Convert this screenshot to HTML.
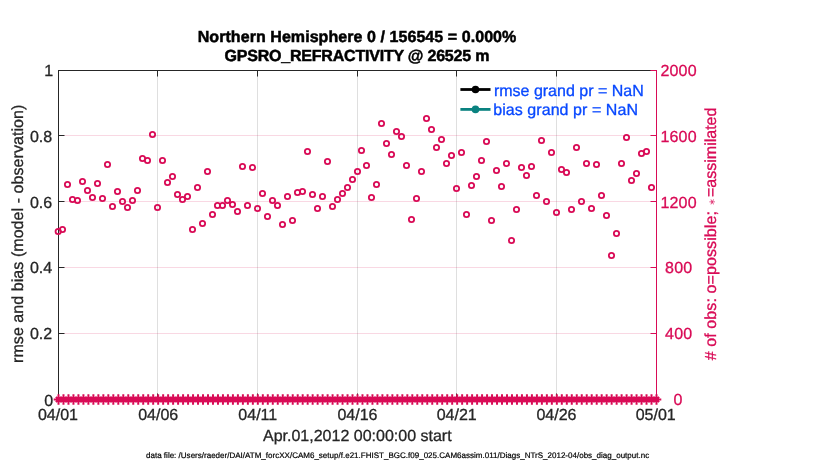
<!DOCTYPE html>
<html><head><meta charset="utf-8"><title>GPSRO_REFRACTIVITY</title>
<style>
html,body{margin:0;padding:0;background:#fff;}
body{width:830px;height:470px;overflow:hidden;}
svg{display:block;}
text{font-family:"Liberation Sans",Arial,Helvetica,sans-serif;font-size:16px;fill:#262626;text-rendering:geometricPrecision;stroke:#262626;stroke-width:0.3px;}
.b{font-weight:bold;fill:#000;stroke:#000;stroke-width:0.5px;}
.c{fill:#D90B56;stroke:#D90B56;}
.bl{fill:#0848FF;stroke:#0848FF;}
</style></head><body>
<svg width="830" height="470" viewBox="0 0 830 470">
<rect x="0" y="0" width="830" height="470" fill="#fff"/>

<g shape-rendering="crispEdges">
<rect x="157" y="71" width="1" height="328" fill="#262626" fill-opacity="0.15"/>
<rect x="257" y="71" width="1" height="328" fill="#262626" fill-opacity="0.15"/>
<rect x="357" y="71" width="1" height="328" fill="#262626" fill-opacity="0.15"/>
<rect x="456" y="71" width="1" height="328" fill="#262626" fill-opacity="0.15"/>
<rect x="556" y="71" width="1" height="328" fill="#262626" fill-opacity="0.15"/>
<rect x="59" y="135" width="597" height="1" fill="#D70A53" fill-opacity="0.16"/>
<rect x="59" y="201" width="597" height="1" fill="#D70A53" fill-opacity="0.16"/>
<rect x="59" y="267" width="597" height="1" fill="#D70A53" fill-opacity="0.16"/>
<rect x="59" y="333" width="597" height="1" fill="#D70A53" fill-opacity="0.16"/>
<g fill="#262626">
<rect x="58" y="70" width="1" height="330"/>
<rect x="58" y="70" width="599" height="1"/>
<rect x="58" y="399" width="599" height="1"/>
<rect x="157" y="71" width="1" height="5.5" shape-rendering="auto"/>
<rect x="157" y="393.5" width="1" height="5.5" shape-rendering="auto"/>
<rect x="257" y="71" width="1" height="5.5" shape-rendering="auto"/>
<rect x="257" y="393.5" width="1" height="5.5" shape-rendering="auto"/>
<rect x="357" y="71" width="1" height="5.5" shape-rendering="auto"/>
<rect x="357" y="393.5" width="1" height="5.5" shape-rendering="auto"/>
<rect x="456" y="71" width="1" height="5.5" shape-rendering="auto"/>
<rect x="456" y="393.5" width="1" height="5.5" shape-rendering="auto"/>
<rect x="556" y="71" width="1" height="5.5" shape-rendering="auto"/>
<rect x="556" y="393.5" width="1" height="5.5" shape-rendering="auto"/>
<rect x="59" y="135" width="5.5" height="1" shape-rendering="auto"/>
<rect x="59" y="201" width="5.5" height="1" shape-rendering="auto"/>
<rect x="59" y="267" width="5.5" height="1" shape-rendering="auto"/>
<rect x="59" y="333" width="5.5" height="1" shape-rendering="auto"/>
</g>
<g fill="#D90B56">
<rect x="656" y="70" width="1" height="330"/>
<rect x="650.5" y="70" width="5.5" height="1" shape-rendering="auto"/>
<rect x="650.5" y="135" width="5.5" height="1" shape-rendering="auto"/>
<rect x="650.5" y="201" width="5.5" height="1" shape-rendering="auto"/>
<rect x="650.5" y="267" width="5.5" height="1" shape-rendering="auto"/>
<rect x="650.5" y="333" width="5.5" height="1" shape-rendering="auto"/>
<rect x="650.5" y="399" width="5.5" height="1" shape-rendering="auto"/>
</g></g>
<g fill="none" stroke="#D90B56" stroke-width="1.8">
<circle cx="58.2" cy="231.5" r="2.65"/>
<circle cx="62.5" cy="229.5" r="2.65"/>
<circle cx="67.5" cy="184.5" r="2.65"/>
<circle cx="72.5" cy="199.5" r="2.65"/>
<circle cx="77.5" cy="200.5" r="2.65"/>
<circle cx="82.5" cy="181.5" r="2.65"/>
<circle cx="87.5" cy="190.5" r="2.65"/>
<circle cx="92.5" cy="197.5" r="2.65"/>
<circle cx="97.5" cy="183.5" r="2.65"/>
<circle cx="102.5" cy="198.5" r="2.65"/>
<circle cx="107.5" cy="164.5" r="2.65"/>
<circle cx="112.5" cy="206.5" r="2.65"/>
<circle cx="117.5" cy="191.5" r="2.65"/>
<circle cx="122.5" cy="201.5" r="2.65"/>
<circle cx="127.5" cy="207.5" r="2.65"/>
<circle cx="132.5" cy="200.5" r="2.65"/>
<circle cx="137.5" cy="190.5" r="2.65"/>
<circle cx="142.5" cy="158.5" r="2.65"/>
<circle cx="147.5" cy="160.5" r="2.65"/>
<circle cx="152.5" cy="134.5" r="2.65"/>
<circle cx="157.5" cy="207.5" r="2.65"/>
<circle cx="162.5" cy="160.5" r="2.65"/>
<circle cx="167.5" cy="182.5" r="2.65"/>
<circle cx="172.5" cy="176.5" r="2.65"/>
<circle cx="177.5" cy="194.5" r="2.65"/>
<circle cx="182.5" cy="199.5" r="2.65"/>
<circle cx="187.5" cy="196.5" r="2.65"/>
<circle cx="192.5" cy="229.5" r="2.65"/>
<circle cx="197.5" cy="187.5" r="2.65"/>
<circle cx="202.5" cy="223.5" r="2.65"/>
<circle cx="207.5" cy="171.5" r="2.65"/>
<circle cx="212.5" cy="214.5" r="2.65"/>
<circle cx="217.5" cy="205.5" r="2.65"/>
<circle cx="222.5" cy="205.5" r="2.65"/>
<circle cx="227.5" cy="200.5" r="2.65"/>
<circle cx="232.5" cy="204.5" r="2.65"/>
<circle cx="237.5" cy="211.5" r="2.65"/>
<circle cx="242.5" cy="166.5" r="2.65"/>
<circle cx="247.5" cy="205.5" r="2.65"/>
<circle cx="252.5" cy="167.5" r="2.65"/>
<circle cx="257.5" cy="208.5" r="2.65"/>
<circle cx="262.5" cy="193.5" r="2.65"/>
<circle cx="267.5" cy="216.5" r="2.65"/>
<circle cx="272.5" cy="200.5" r="2.65"/>
<circle cx="277.5" cy="205.5" r="2.65"/>
<circle cx="282.5" cy="224.5" r="2.65"/>
<circle cx="287.5" cy="196.5" r="2.65"/>
<circle cx="292.5" cy="220.5" r="2.65"/>
<circle cx="297.5" cy="192.5" r="2.65"/>
<circle cx="302.5" cy="191.5" r="2.65"/>
<circle cx="307.5" cy="151.5" r="2.65"/>
<circle cx="312.5" cy="194.5" r="2.65"/>
<circle cx="317.5" cy="208.5" r="2.65"/>
<circle cx="322.5" cy="196.5" r="2.65"/>
<circle cx="327.5" cy="161.5" r="2.65"/>
<circle cx="332.5" cy="206.5" r="2.65"/>
<circle cx="337.5" cy="199.5" r="2.65"/>
<circle cx="342.5" cy="193.5" r="2.65"/>
<circle cx="347.5" cy="187.5" r="2.65"/>
<circle cx="352.5" cy="179.5" r="2.65"/>
<circle cx="357.5" cy="171.5" r="2.65"/>
<circle cx="361.5" cy="150.5" r="2.65"/>
<circle cx="366.5" cy="165.5" r="2.65"/>
<circle cx="371.5" cy="197.5" r="2.65"/>
<circle cx="376.5" cy="184.5" r="2.65"/>
<circle cx="381.5" cy="123.5" r="2.65"/>
<circle cx="386.5" cy="143.5" r="2.65"/>
<circle cx="391.5" cy="154.5" r="2.65"/>
<circle cx="396.5" cy="131.5" r="2.65"/>
<circle cx="401.5" cy="136.5" r="2.65"/>
<circle cx="406.5" cy="165.5" r="2.65"/>
<circle cx="411.5" cy="219.5" r="2.65"/>
<circle cx="416.5" cy="198.5" r="2.65"/>
<circle cx="421.5" cy="171.5" r="2.65"/>
<circle cx="426.5" cy="118.5" r="2.65"/>
<circle cx="431.5" cy="129.5" r="2.65"/>
<circle cx="436.5" cy="147.5" r="2.65"/>
<circle cx="441.5" cy="139.5" r="2.65"/>
<circle cx="446.5" cy="163.5" r="2.65"/>
<circle cx="451.5" cy="155.5" r="2.65"/>
<circle cx="456.5" cy="188.5" r="2.65"/>
<circle cx="461.5" cy="152.5" r="2.65"/>
<circle cx="466.5" cy="214.5" r="2.65"/>
<circle cx="471.5" cy="185.5" r="2.65"/>
<circle cx="476.5" cy="176.5" r="2.65"/>
<circle cx="481.5" cy="160.5" r="2.65"/>
<circle cx="486.5" cy="141.5" r="2.65"/>
<circle cx="491.5" cy="220.5" r="2.65"/>
<circle cx="496.5" cy="170.5" r="2.65"/>
<circle cx="501.5" cy="186.5" r="2.65"/>
<circle cx="506.5" cy="163.5" r="2.65"/>
<circle cx="511.5" cy="240.5" r="2.65"/>
<circle cx="516.5" cy="209.5" r="2.65"/>
<circle cx="521.5" cy="167.5" r="2.65"/>
<circle cx="526.5" cy="175.5" r="2.65"/>
<circle cx="531.5" cy="166.5" r="2.65"/>
<circle cx="536.5" cy="195.5" r="2.65"/>
<circle cx="541.5" cy="140.5" r="2.65"/>
<circle cx="546.5" cy="201.5" r="2.65"/>
<circle cx="551.5" cy="152.5" r="2.65"/>
<circle cx="556.5" cy="212.5" r="2.65"/>
<circle cx="561.5" cy="169.5" r="2.65"/>
<circle cx="566.5" cy="172.5" r="2.65"/>
<circle cx="571.5" cy="209.5" r="2.65"/>
<circle cx="576.5" cy="147.5" r="2.65"/>
<circle cx="581.5" cy="201.5" r="2.65"/>
<circle cx="586.5" cy="163.5" r="2.65"/>
<circle cx="591.5" cy="208.5" r="2.65"/>
<circle cx="596.5" cy="164.5" r="2.65"/>
<circle cx="601.5" cy="195.5" r="2.65"/>
<circle cx="606.5" cy="215.5" r="2.65"/>
<circle cx="611.5" cy="255.5" r="2.65"/>
<circle cx="616.5" cy="233.5" r="2.65"/>
<circle cx="621.5" cy="163.5" r="2.65"/>
<circle cx="626.5" cy="137.5" r="2.65"/>
<circle cx="631.5" cy="180.5" r="2.65"/>
<circle cx="636.5" cy="173.5" r="2.65"/>
<circle cx="641.5" cy="153.5" r="2.65"/>
<circle cx="646.5" cy="151.5" r="2.65"/>
<circle cx="651.5" cy="187.5" r="2.65"/>
</g>
<g stroke="#D90B56" stroke-width="2" stroke-linecap="butt">
<path d="M58.50 394.2V404.8M53.70 399.5H63.30M55.90 396.9L61.10 402.1M55.90 402.1L61.10 396.9M63.48 394.2V404.8M58.68 399.5H68.28M60.88 396.9L66.08 402.1M60.88 402.1L66.08 396.9M68.47 394.2V404.8M63.67 399.5H73.27M65.87 396.9L71.07 402.1M65.87 402.1L71.07 396.9M73.45 394.2V404.8M68.65 399.5H78.25M70.85 396.9L76.05 402.1M70.85 402.1L76.05 396.9M78.43 394.2V404.8M73.63 399.5H83.23M75.83 396.9L81.03 402.1M75.83 402.1L81.03 396.9M83.42 394.2V404.8M78.62 399.5H88.22M80.82 396.9L86.02 402.1M80.82 402.1L86.02 396.9M88.40 394.2V404.8M83.60 399.5H93.20M85.80 396.9L91.00 402.1M85.80 402.1L91.00 396.9M93.38 394.2V404.8M88.58 399.5H98.18M90.78 396.9L95.98 402.1M90.78 402.1L95.98 396.9M98.37 394.2V404.8M93.57 399.5H103.17M95.77 396.9L100.97 402.1M95.77 402.1L100.97 396.9M103.35 394.2V404.8M98.55 399.5H108.15M100.75 396.9L105.95 402.1M100.75 402.1L105.95 396.9M108.33 394.2V404.8M103.53 399.5H113.13M105.73 396.9L110.93 402.1M105.73 402.1L110.93 396.9M113.32 394.2V404.8M108.52 399.5H118.12M110.72 396.9L115.92 402.1M110.72 402.1L115.92 396.9M118.30 394.2V404.8M113.50 399.5H123.10M115.70 396.9L120.90 402.1M115.70 402.1L120.90 396.9M123.28 394.2V404.8M118.48 399.5H128.08M120.68 396.9L125.88 402.1M120.68 402.1L125.88 396.9M128.27 394.2V404.8M123.47 399.5H133.07M125.67 396.9L130.87 402.1M125.67 402.1L130.87 396.9M133.25 394.2V404.8M128.45 399.5H138.05M130.65 396.9L135.85 402.1M130.65 402.1L135.85 396.9M138.23 394.2V404.8M133.43 399.5H143.03M135.63 396.9L140.83 402.1M135.63 402.1L140.83 396.9M143.22 394.2V404.8M138.42 399.5H148.02M140.62 396.9L145.82 402.1M140.62 402.1L145.82 396.9M148.20 394.2V404.8M143.40 399.5H153.00M145.60 396.9L150.80 402.1M145.60 402.1L150.80 396.9M153.18 394.2V404.8M148.38 399.5H157.98M150.58 396.9L155.78 402.1M150.58 402.1L155.78 396.9M158.17 394.2V404.8M153.37 399.5H162.97M155.57 396.9L160.77 402.1M155.57 402.1L160.77 396.9M163.15 394.2V404.8M158.35 399.5H167.95M160.55 396.9L165.75 402.1M160.55 402.1L165.75 396.9M168.13 394.2V404.8M163.33 399.5H172.93M165.53 396.9L170.73 402.1M165.53 402.1L170.73 396.9M173.12 394.2V404.8M168.32 399.5H177.92M170.52 396.9L175.72 402.1M170.52 402.1L175.72 396.9M178.10 394.2V404.8M173.30 399.5H182.90M175.50 396.9L180.70 402.1M175.50 402.1L180.70 396.9M183.08 394.2V404.8M178.28 399.5H187.88M180.48 396.9L185.68 402.1M180.48 402.1L185.68 396.9M188.07 394.2V404.8M183.27 399.5H192.87M185.47 396.9L190.67 402.1M185.47 402.1L190.67 396.9M193.05 394.2V404.8M188.25 399.5H197.85M190.45 396.9L195.65 402.1M190.45 402.1L195.65 396.9M198.03 394.2V404.8M193.23 399.5H202.83M195.43 396.9L200.63 402.1M195.43 402.1L200.63 396.9M203.02 394.2V404.8M198.22 399.5H207.82M200.42 396.9L205.62 402.1M200.42 402.1L205.62 396.9M208.00 394.2V404.8M203.20 399.5H212.80M205.40 396.9L210.60 402.1M205.40 402.1L210.60 396.9M212.98 394.2V404.8M208.18 399.5H217.78M210.38 396.9L215.58 402.1M210.38 402.1L215.58 396.9M217.97 394.2V404.8M213.17 399.5H222.77M215.37 396.9L220.57 402.1M215.37 402.1L220.57 396.9M222.95 394.2V404.8M218.15 399.5H227.75M220.35 396.9L225.55 402.1M220.35 402.1L225.55 396.9M227.93 394.2V404.8M223.13 399.5H232.73M225.33 396.9L230.53 402.1M225.33 402.1L230.53 396.9M232.92 394.2V404.8M228.12 399.5H237.72M230.32 396.9L235.52 402.1M230.32 402.1L235.52 396.9M237.90 394.2V404.8M233.10 399.5H242.70M235.30 396.9L240.50 402.1M235.30 402.1L240.50 396.9M242.88 394.2V404.8M238.08 399.5H247.68M240.28 396.9L245.48 402.1M240.28 402.1L245.48 396.9M247.87 394.2V404.8M243.07 399.5H252.67M245.27 396.9L250.47 402.1M245.27 402.1L250.47 396.9M252.85 394.2V404.8M248.05 399.5H257.65M250.25 396.9L255.45 402.1M250.25 402.1L255.45 396.9M257.83 394.2V404.8M253.03 399.5H262.63M255.23 396.9L260.43 402.1M255.23 402.1L260.43 396.9M262.82 394.2V404.8M258.02 399.5H267.62M260.22 396.9L265.42 402.1M260.22 402.1L265.42 396.9M267.80 394.2V404.8M263.00 399.5H272.60M265.20 396.9L270.40 402.1M265.20 402.1L270.40 396.9M272.78 394.2V404.8M267.98 399.5H277.58M270.18 396.9L275.38 402.1M270.18 402.1L275.38 396.9M277.77 394.2V404.8M272.97 399.5H282.57M275.17 396.9L280.37 402.1M275.17 402.1L280.37 396.9M282.75 394.2V404.8M277.95 399.5H287.55M280.15 396.9L285.35 402.1M280.15 402.1L285.35 396.9M287.73 394.2V404.8M282.93 399.5H292.53M285.13 396.9L290.33 402.1M285.13 402.1L290.33 396.9M292.72 394.2V404.8M287.92 399.5H297.52M290.12 396.9L295.32 402.1M290.12 402.1L295.32 396.9M297.70 394.2V404.8M292.90 399.5H302.50M295.10 396.9L300.30 402.1M295.10 402.1L300.30 396.9M302.68 394.2V404.8M297.88 399.5H307.48M300.08 396.9L305.28 402.1M300.08 402.1L305.28 396.9M307.66 394.2V404.8M302.86 399.5H312.46M305.06 396.9L310.26 402.1M305.06 402.1L310.26 396.9M312.65 394.2V404.8M307.85 399.5H317.45M310.05 396.9L315.25 402.1M310.05 402.1L315.25 396.9M317.63 394.2V404.8M312.83 399.5H322.43M315.03 396.9L320.23 402.1M315.03 402.1L320.23 396.9M322.61 394.2V404.8M317.81 399.5H327.41M320.01 396.9L325.21 402.1M320.01 402.1L325.21 396.9M327.60 394.2V404.8M322.80 399.5H332.40M325.00 396.9L330.20 402.1M325.00 402.1L330.20 396.9M332.58 394.2V404.8M327.78 399.5H337.38M329.98 396.9L335.18 402.1M329.98 402.1L335.18 396.9M337.56 394.2V404.8M332.76 399.5H342.36M334.96 396.9L340.16 402.1M334.96 402.1L340.16 396.9M342.55 394.2V404.8M337.75 399.5H347.35M339.95 396.9L345.15 402.1M339.95 402.1L345.15 396.9M347.53 394.2V404.8M342.73 399.5H352.33M344.93 396.9L350.13 402.1M344.93 402.1L350.13 396.9M352.51 394.2V404.8M347.71 399.5H357.31M349.91 396.9L355.11 402.1M349.91 402.1L355.11 396.9M357.50 394.2V404.8M352.70 399.5H362.30M354.90 396.9L360.10 402.1M354.90 402.1L360.10 396.9M362.48 394.2V404.8M357.68 399.5H367.28M359.88 396.9L365.08 402.1M359.88 402.1L365.08 396.9M367.46 394.2V404.8M362.66 399.5H372.26M364.86 396.9L370.06 402.1M364.86 402.1L370.06 396.9M372.45 394.2V404.8M367.65 399.5H377.25M369.85 396.9L375.05 402.1M369.85 402.1L375.05 396.9M377.43 394.2V404.8M372.63 399.5H382.23M374.83 396.9L380.03 402.1M374.83 402.1L380.03 396.9M382.41 394.2V404.8M377.61 399.5H387.21M379.81 396.9L385.01 402.1M379.81 402.1L385.01 396.9M387.40 394.2V404.8M382.60 399.5H392.20M384.80 396.9L390.00 402.1M384.80 402.1L390.00 396.9M392.38 394.2V404.8M387.58 399.5H397.18M389.78 396.9L394.98 402.1M389.78 402.1L394.98 396.9M397.36 394.2V404.8M392.56 399.5H402.16M394.76 396.9L399.96 402.1M394.76 402.1L399.96 396.9M402.35 394.2V404.8M397.55 399.5H407.15M399.75 396.9L404.95 402.1M399.75 402.1L404.95 396.9M407.33 394.2V404.8M402.53 399.5H412.13M404.73 396.9L409.93 402.1M404.73 402.1L409.93 396.9M412.31 394.2V404.8M407.51 399.5H417.11M409.71 396.9L414.91 402.1M409.71 402.1L414.91 396.9M417.30 394.2V404.8M412.50 399.5H422.10M414.70 396.9L419.90 402.1M414.70 402.1L419.90 396.9M422.28 394.2V404.8M417.48 399.5H427.08M419.68 396.9L424.88 402.1M419.68 402.1L424.88 396.9M427.26 394.2V404.8M422.46 399.5H432.06M424.66 396.9L429.86 402.1M424.66 402.1L429.86 396.9M432.25 394.2V404.8M427.45 399.5H437.05M429.65 396.9L434.85 402.1M429.65 402.1L434.85 396.9M437.23 394.2V404.8M432.43 399.5H442.03M434.63 396.9L439.83 402.1M434.63 402.1L439.83 396.9M442.21 394.2V404.8M437.41 399.5H447.01M439.61 396.9L444.81 402.1M439.61 402.1L444.81 396.9M447.20 394.2V404.8M442.40 399.5H452.00M444.60 396.9L449.80 402.1M444.60 402.1L449.80 396.9M452.18 394.2V404.8M447.38 399.5H456.98M449.58 396.9L454.78 402.1M449.58 402.1L454.78 396.9M457.16 394.2V404.8M452.36 399.5H461.96M454.56 396.9L459.76 402.1M454.56 402.1L459.76 396.9M462.15 394.2V404.8M457.35 399.5H466.95M459.55 396.9L464.75 402.1M459.55 402.1L464.75 396.9M467.13 394.2V404.8M462.33 399.5H471.93M464.53 396.9L469.73 402.1M464.53 402.1L469.73 396.9M472.11 394.2V404.8M467.31 399.5H476.91M469.51 396.9L474.71 402.1M469.51 402.1L474.71 396.9M477.10 394.2V404.8M472.30 399.5H481.90M474.50 396.9L479.70 402.1M474.50 402.1L479.70 396.9M482.08 394.2V404.8M477.28 399.5H486.88M479.48 396.9L484.68 402.1M479.48 402.1L484.68 396.9M487.06 394.2V404.8M482.26 399.5H491.86M484.46 396.9L489.66 402.1M484.46 402.1L489.66 396.9M492.05 394.2V404.8M487.25 399.5H496.85M489.45 396.9L494.65 402.1M489.45 402.1L494.65 396.9M497.03 394.2V404.8M492.23 399.5H501.83M494.43 396.9L499.63 402.1M494.43 402.1L499.63 396.9M502.01 394.2V404.8M497.21 399.5H506.81M499.41 396.9L504.61 402.1M499.41 402.1L504.61 396.9M507.00 394.2V404.8M502.20 399.5H511.80M504.40 396.9L509.60 402.1M504.40 402.1L509.60 396.9M511.98 394.2V404.8M507.18 399.5H516.78M509.38 396.9L514.58 402.1M509.38 402.1L514.58 396.9M516.96 394.2V404.8M512.16 399.5H521.76M514.36 396.9L519.56 402.1M514.36 402.1L519.56 396.9M521.95 394.2V404.8M517.15 399.5H526.75M519.35 396.9L524.55 402.1M519.35 402.1L524.55 396.9M526.93 394.2V404.8M522.13 399.5H531.73M524.33 396.9L529.53 402.1M524.33 402.1L529.53 396.9M531.91 394.2V404.8M527.11 399.5H536.71M529.31 396.9L534.51 402.1M529.31 402.1L534.51 396.9M536.90 394.2V404.8M532.10 399.5H541.70M534.30 396.9L539.50 402.1M534.30 402.1L539.50 396.9M541.88 394.2V404.8M537.08 399.5H546.68M539.28 396.9L544.48 402.1M539.28 402.1L544.48 396.9M546.86 394.2V404.8M542.06 399.5H551.66M544.26 396.9L549.46 402.1M544.26 402.1L549.46 396.9M551.85 394.2V404.8M547.05 399.5H556.65M549.25 396.9L554.45 402.1M549.25 402.1L554.45 396.9M556.83 394.2V404.8M552.03 399.5H561.63M554.23 396.9L559.43 402.1M554.23 402.1L559.43 396.9M561.81 394.2V404.8M557.01 399.5H566.61M559.21 396.9L564.41 402.1M559.21 402.1L564.41 396.9M566.80 394.2V404.8M562.00 399.5H571.60M564.20 396.9L569.40 402.1M564.20 402.1L569.40 396.9M571.78 394.2V404.8M566.98 399.5H576.58M569.18 396.9L574.38 402.1M569.18 402.1L574.38 396.9M576.76 394.2V404.8M571.96 399.5H581.56M574.16 396.9L579.36 402.1M574.16 402.1L579.36 396.9M581.75 394.2V404.8M576.95 399.5H586.55M579.15 396.9L584.35 402.1M579.15 402.1L584.35 396.9M586.73 394.2V404.8M581.93 399.5H591.53M584.13 396.9L589.33 402.1M584.13 402.1L589.33 396.9M591.71 394.2V404.8M586.91 399.5H596.51M589.11 396.9L594.31 402.1M589.11 402.1L594.31 396.9M596.70 394.2V404.8M591.90 399.5H601.50M594.10 396.9L599.30 402.1M594.10 402.1L599.30 396.9M601.68 394.2V404.8M596.88 399.5H606.48M599.08 396.9L604.28 402.1M599.08 402.1L604.28 396.9M606.66 394.2V404.8M601.86 399.5H611.46M604.06 396.9L609.26 402.1M604.06 402.1L609.26 396.9M611.65 394.2V404.8M606.85 399.5H616.45M609.05 396.9L614.25 402.1M609.05 402.1L614.25 396.9M616.63 394.2V404.8M611.83 399.5H621.43M614.03 396.9L619.23 402.1M614.03 402.1L619.23 396.9M621.61 394.2V404.8M616.81 399.5H626.41M619.01 396.9L624.21 402.1M619.01 402.1L624.21 396.9M626.60 394.2V404.8M621.80 399.5H631.40M624.00 396.9L629.20 402.1M624.00 402.1L629.20 396.9M631.58 394.2V404.8M626.78 399.5H636.38M628.98 396.9L634.18 402.1M628.98 402.1L634.18 396.9M636.56 394.2V404.8M631.76 399.5H641.36M633.96 396.9L639.16 402.1M633.96 402.1L639.16 396.9M641.55 394.2V404.8M636.75 399.5H646.35M638.95 396.9L644.15 402.1M638.95 402.1L644.15 396.9M646.53 394.2V404.8M641.73 399.5H651.33M643.93 396.9L649.13 402.1M643.93 402.1L649.13 396.9M651.51 394.2V404.8M646.71 399.5H656.31M648.91 396.9L654.11 402.1M648.91 402.1L654.11 396.9M656.50 394.2V404.8M651.70 399.5H661.30M653.90 396.9L659.10 402.1M653.90 402.1L659.10 396.9"/>
</g>
<line x1="460.4" y1="89.5" x2="490.5" y2="89.5" stroke="#000" stroke-width="2.8"/><circle cx="475.5" cy="89.5" r="3.8" fill="#000"/>
<line x1="460.4" y1="109.4" x2="490.5" y2="109.4" stroke="#0A8280" stroke-width="2.8"/><circle cx="475.5" cy="109.4" r="3.8" fill="#0A8280"/>
<text class="bl" x="493.9" y="95.6">rmse grand pr = NaN</text>
<text class="bl" x="493.2" y="114.5" textLength="144.8">bias grand pr = NaN</text>
<text class="b" x="357.0" y="41.9" text-anchor="middle" textLength="318.6">Northern Hemisphere 0 / 156545 = 0.000%</text>
<text class="b" x="357.0" y="61.2" text-anchor="middle" textLength="264.8">GPSRO_REFRACTIVITY @ 26525 m</text>
<text x="53.2" y="76.3" text-anchor="end">1</text>
<text x="52.2" y="142.3" text-anchor="end">0.8</text>
<text x="52.2" y="208.4" text-anchor="end">0.6</text>
<text x="52.2" y="273.3" text-anchor="end">0.4</text>
<text x="52.2" y="339.3" text-anchor="end">0.2</text>
<text x="53.2" y="405.7" text-anchor="end">0</text>
<text class="c" x="660.4" y="75.9" style="white-space:pre;letter-spacing:0.2px">2000</text>
<text class="c" x="660.4" y="142.1" style="white-space:pre;letter-spacing:0.2px">1600</text>
<text class="c" x="660.4" y="208.1" style="white-space:pre;letter-spacing:0.2px">1200</text>
<text class="c" x="660.4" y="273.3" style="white-space:pre;letter-spacing:0.2px"> 800</text>
<text class="c" x="660.4" y="339.3" style="white-space:pre;letter-spacing:0.2px"> 400</text>
<text class="c" x="659.6" y="405.3" style="white-space:pre;letter-spacing:0.2px">   0</text>
<text x="58.0" y="419.8" text-anchor="middle">04/01</text>
<text x="158.2" y="419.8" text-anchor="middle">04/06</text>
<text x="257.8" y="419.8" text-anchor="middle">04/11</text>
<text x="357.5" y="419.8" text-anchor="middle">04/16</text>
<text x="456.7" y="419.8" text-anchor="middle">04/21</text>
<text x="556.5" y="419.8" text-anchor="middle">04/26</text>
<text x="655.7" y="419.8" text-anchor="middle">05/01</text>
<text x="357.3" y="440.7" text-anchor="middle">Apr.01,2012 00:00:00 start</text>
<text x="146" y="457.6" textLength="503.2" style="font-size:8px;fill:#000;stroke:#000;stroke-width:0.2px">data file: /Users/raeder/DAI/ATM_forcXX/CAM6_setup/f.e21.FHIST_BGC.f09_025.CAM6assim.011/Diags_NTrS_2012-04/obs_diag_output.nc</text>
<text transform="translate(23.1 233.8) rotate(-90)" text-anchor="middle" textLength="258.3">rmse and bias (model - observation)</text>
<text class="c" transform="translate(716 360.3) rotate(-90)" textLength="149.2"># of obs: o=possible;</text>
<text class="c" transform="translate(716 107.6) rotate(-90)" text-anchor="end">=assimilated</text>
<text class="c" transform="translate(715.2 202) rotate(-90)" text-anchor="middle" style="font-size:9px;stroke:none;opacity:0.85">∗</text>
</svg></body></html>
